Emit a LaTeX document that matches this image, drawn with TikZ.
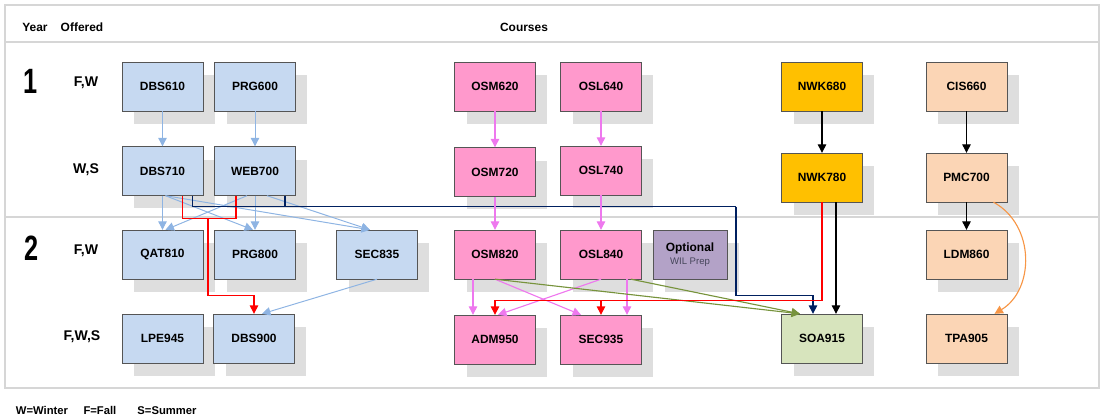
\documentclass[tikz,border=0pt]{standalone}
\usepackage{graphicx}
\usepackage{fontspec}
\setmainfont{Liberation Sans}
\usetikzlibrary{shadows,arrows.meta}
\definecolor{boxline}{RGB}{85,85,85}
\definecolor{shadowgray}{RGB}{222,222,222}
\definecolor{framegray}{RGB}{214,214,214}
\definecolor{dbblue}{RGB}{198,217,241}
\definecolor{ospink}{RGB}{255,153,204}
\definecolor{nwkgold}{RGB}{255,192,0}
\definecolor{cispeach}{RGB}{251,213,181}
\definecolor{soagreen}{RGB}{215,228,189}
\definecolor{wilpurple}{RGB}{179,162,199}
\definecolor{wilgray}{RGB}{70,70,90}
\definecolor{linkblue}{RGB}{142,180,227}
\definecolor{linkviolet}{RGB}{238,120,238}
\definecolor{linknavy}{RGB}{0,32,96}
\definecolor{linkgreen}{RGB}{119,147,60}
\definecolor{linkorange}{RGB}{247,150,70}

\begin{document}
\begin{tikzpicture}[x=0.025cm, y=-0.025cm, >={Triangle[length=6pt,width=6pt]},
    every node/.style={font=\fontsize{8.5}{10}\selectfont\bfseries}]
  \tikzstyle{course}=[draw=boxline,minimum width=2.02cm,minimum height=1.22cm,inner sep=0pt,drop shadow={shadow xshift=0.3cm,shadow yshift=-0.325cm,fill=shadowgray,opacity=1}]
  \tikzstyle{bluebox}=[course,fill=dbblue]
  \tikzstyle{pinkbox}=[course,fill=ospink]
  \tikzstyle{goldbox}=[course,fill=nwkgold]
  \tikzstyle{peachbox}=[course,fill=cispeach]
  \tikzstyle{greenbox}=[course,fill=soagreen]
  \tikzstyle{purplebox}=[course,fill=wilpurple]
  \tikzstyle{offer}=[font=\fontsize{10}{12}\selectfont\bfseries]
  \tikzstyle{yearno}=[font=\fontsize{25}{27}\selectfont\bfseries]
  \tikzstyle{frame}=[draw=framegray,line width=1.5pt]
  \tikzstyle{bl}=[->,line width=0.7pt,linkblue]
  \tikzstyle{vt}=[->,line width=0.8pt,linkviolet]
  \tikzstyle{bk}=[->,line width=0.8pt,black]
  \tikzstyle{rd}=[line width=0.9pt,red]
  \tikzstyle{nv}=[line width=0.9pt,linknavy]
  \tikzstyle{gr}=[->,line width=0.8pt,linkgreen]
  \tikzstyle{og}=[->,line width=0.8pt,linkorange]
  \useasboundingbox (0,0) rectangle (1104,417);
  % table frame
  \draw[frame] (5,5) rectangle (1099,388);
  \draw[frame] (5,42) -- (1099,42);
  \draw[frame] (5,217) -- (1099,217);
  \node (year) at (35,27) {Year};
  \node (offered) at (82,27) {Offered};
  \node (courses) at (524,27) {Courses};
  \node[yearno] (y1) at (31,81) {\scalebox{0.72}[1]{1}};
  \node[yearno] (y2) at (32,248) {\scalebox{0.72}[1]{2}};
  \node[offer] (o1) at (86,83) {F,W};
  \node[offer] (o2) at (86,170) {W,S};
  \node[offer] (o3) at (86,251) {F,W};
  \node[offer] (o4) at (82,337) {F,W,S};
  % courses
  \node[bluebox] (dbs610) at (162.5,86.5) {DBS610};
  \node[bluebox] (prg600) at (255,86.5) {PRG600};
  \node[bluebox] (dbs710) at (162.5,171) {DBS710};
  \node[bluebox] (web700) at (255,171) {WEB700};
  \node[bluebox] (qat810) at (162.5,254.5) {QAT810};
  \node[bluebox] (prg800) at (255,254.5) {PRG800};
  \node[bluebox] (sec835) at (377,254.5) {SEC835};
  \node[bluebox] (lpe945) at (162.5,338.5) {LPE945};
  \node[bluebox] (dbs900) at (254,338.5) {DBS900};
  \node[pinkbox] (osm620) at (495,86.5) {OSM620};
  \node[pinkbox] (osl640) at (601,86.5) {OSL640};
  \node[pinkbox] (osm720) at (495,172) {OSM720};
  \node[pinkbox] (osl740) at (601,170.5) {OSL740};
  \node[pinkbox] (osm820) at (495,254.5) {OSM820};
  \node[pinkbox] (osl840) at (601,254.5) {OSL840};
  \node[purplebox,minimum width=1.84cm,align=center] (wil) at (690,254.5) {Optional\\[-1pt]{\fontsize{6.8}{8}\selectfont\mdseries\color{wilgray}WIL Prep}};
  \node[pinkbox] (adm950) at (495,339.5) {ADM950};
  \node[pinkbox] (sec935) at (601,339.5) {SEC935};
  \node[goldbox] (nwk680) at (822,86.5) {NWK680};
  \node[goldbox] (nwk780) at (822,177.5) {NWK780};
  \node[greenbox] (soa915) at (822,338.5) {SOA915};
  \node[peachbox] (cis660) at (966.5,86.5) {CIS660};
  \node[peachbox] (pmc700) at (966.5,177.5) {PMC700};
  \node[peachbox] (ldm860) at (966.5,254.5) {LDM860};
  \node[peachbox] (tpa905) at (966.5,338.5) {TPA905};
  % database / web stream
  \draw[bl] (dbs610) -- (dbs710);
  \draw[bl] (prg600) -- (web700);
  \draw[bl] (dbs710) -- (qat810);
  \draw[bl] ([shift={(3,0)}]dbs710.south) -- ([shift={(-2,0)}]prg800.north);
  \draw[bl] ([shift={(3,0)}]dbs710.south) -- ([shift={(-7,0)}]sec835.north);
  \draw[bl] ([shift={(-8,0)}]web700.south) -- ([shift={(3,0)}]qat810.north);
  \draw[bl] (web700) -- (prg800);
  \draw[bl] ([shift={(12,0)}]web700.south) -- ([shift={(-7,0)}]sec835.north);
  \draw[bl] (sec835.south) -- ([shift={(8,0)}]dbs900.north);
  \draw[rd] ([shift={(20,0)}]dbs710.south) -- ++(0,23) -| ([shift={(-19,0)}]web700.south);
  \coordinate (redjoin) at (208,218.5);
  \draw[rd,->] (redjoin) -- ++(0,77) -| (dbs900.north);
  \coordinate (navybend) at (736,206.5);
  \draw[nv] ([shift={(30,0)}]dbs710.south) |- (navybend);
  \draw[nv] ([shift={(30,0)}]web700.south) -- ++(0,11);
  \draw[nv,->] (navybend) -- ++(0,89) -| ([shift={(-9,0)}]soa915.north);
  % operating systems stream
  \draw[vt] (osm620) -- (osm720);
  \draw[vt] (osl640) -- (osl740);
  \draw[vt] (osm720) -- (osm820);
  \draw[vt] (osl740) -- (osl840);
  \draw[vt] ([shift={(-22,0)}]osm820.south) -- ([shift={(-22,0)}]adm950.north);
  \draw[vt] (osm820.south) -- ([shift={(-20,0)}]sec935.north);
  \draw[vt] (osl840.south) -- ([shift={(3,0)}]adm950.north);
  \draw[vt] ([shift={(26,0)}]osl840.south) -- ([shift={(26,0)}]sec935.north);
  \draw[gr] (osm820.south) -- ([shift={(-22,0)}]soa915.north);
  \draw[gr] ([shift={(30,0)}]osl840.south) -- ([shift={(-22,0)}]soa915.north);
  % network stream
  \draw[bk] (nwk680) -- (nwk780);
  \draw[bk] ([shift={(14,0)}]nwk780.south) -- ([shift={(14,0)}]soa915.north);
  \draw[rd,->] (nwk780.south) -- ++(0,98) coordinate (redbar) -| (adm950.north);
  \draw[rd,->] (sec935.north |- redbar) -- (sec935.north);
  % project management stream
  \draw[bk] (cis660) -- (pmc700);
  \draw[bk] (pmc700) -- (ldm860);
  \draw[og] ([shift={(27,0)}]pmc700.south) .. controls +(42,23) and +(40,-24) .. ([shift={(28,0)}]tpa905.north);
  \node[anchor=west,font=\fontsize{8}{10}\selectfont\bfseries] (legend) at (11,410) {W=Winter\hspace{11pt}F=Fall\hspace{15pt}S=Summer};
\end{tikzpicture}
\end{document}
